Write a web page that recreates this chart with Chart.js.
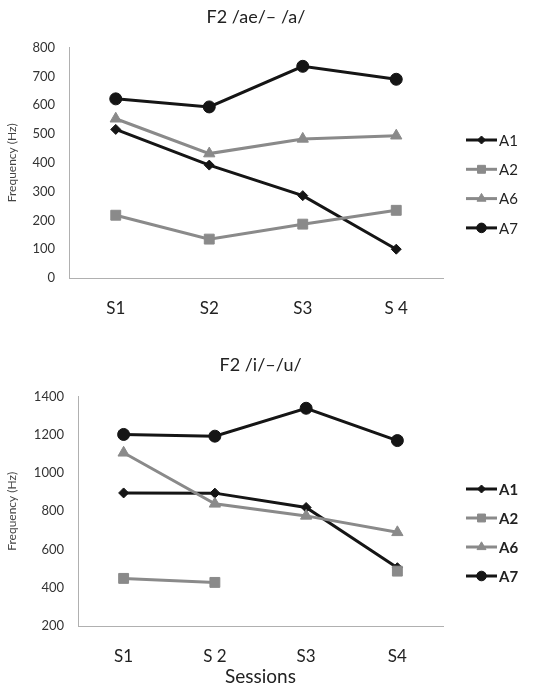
<!DOCTYPE html>
<html lang="en">
<head>
<meta charset="UTF-8">
<title>F2 sessions</title>
<script src="https://cdn.jsdelivr.net/npm/chart.js"></script>
<style>
  body { margin: 0; background: #fff; }
  .card { position: absolute; left: 0; width: 551px; }
  #box_top { top: 0; height: 340px; }
  #box_bottom { top: 340px; height: 348px; }
</style>
</head>
<body>
<div class="card" id="box_top"><canvas id="grafico_ae" width="551" height="340"></canvas></div>
<div class="card" id="box_bottom"><canvas id="grafico_iu" width="551" height="348"></canvas></div>

<script>
    // categories
    const sessoesTop = ['S1', 'S2', 'S3', 'S 4'];
    const sessoesBottom = ['S1', 'S 2', 'S3', 'S4'];
    const falantes = ['A1', 'A2', 'A6', 'A7'];

    // F2 /ae/ - /a/  (Hz)
    const aeA1 = [516, 392, 286, 100];
    const aeA2 = [218, 135, 187, 235];
    const aeA6 = [553, 432, 483, 494];
    const aeA7 = [622, 594, 735, 690];

    // F2 /i/ - /u/  (Hz)
    const iuA1 = [896, 895, 820, 505];
    const iuA2 = [449, 428, null, 487];
    const iuA6 = [1106, 839, 776, 690];
    const iuA7 = [1202, 1193, 1339, 1170];

    const fonte = 'Lato, "Open Sans", sans-serif';
    const preto = '#151515';
    const cinza = '#8a8a8a';

    const estilos = [
        { cor: preto, ponto: 'rectRot', raio: 5 },
        { cor: cinza, ponto: 'rect', raio: 7 },
        { cor: cinza, ponto: 'triangle', raio: 6.5 },
        { cor: preto, ponto: 'circle', raio: 6 }
    ];

    function montarDatasets(series) {
        return series.map(function (valores, i) {
            const e = estilos[i];
            return {
                label: falantes[i],
                data: valores,
                borderColor: e.cor,
                backgroundColor: e.cor,
                pointBackgroundColor: e.cor,
                pointBorderColor: e.cor,
                pointStyle: e.ponto,
                pointRadius: e.raio,
                pointBorderWidth: 1,
                borderWidth: 3,
                tension: 0,
                spanGaps: false,
                order: series.length - 1 - i
            };
        });
    }

    // legend with a line and a marker, like the spreadsheet one
    const legendaLinha = {
        id: 'legendaLinha',
        afterDraw(chart, args, opts) {
            const ctx = chart.ctx;
            chart.data.datasets.forEach(function (ds, i) {
                const y = opts.top + i * opts.gap;
                ctx.save();
                ctx.strokeStyle = ds.borderColor;
                ctx.lineWidth = 3;
                ctx.beginPath();
                ctx.moveTo(opts.x, y);
                ctx.lineTo(opts.x + opts.len, y);
                ctx.stroke();
                ctx.fillStyle = ds.pointBackgroundColor;
                ctx.strokeStyle = ds.pointBorderColor;
                ctx.lineWidth = 1;
                Chart.helpers.drawPoint(ctx, {
                    pointStyle: ds.pointStyle,
                    radius: ds.pointRadius * 0.8,
                    borderWidth: 1,
                    rotation: 0
                }, opts.x + opts.len / 2, y);
                ctx.fillStyle = '#222';
                ctx.font = opts.font;
                ctx.textBaseline = 'middle';
                ctx.textAlign = 'left';
                ctx.fillText(ds.label, opts.x + opts.len + 2, y + 1);
                ctx.restore();
            });
        }
    };

    function criarGrafico(id, cfg) {
        const ctx = document.getElementById(id).getContext('2d');
        return new Chart(ctx, {
            type: 'line',
            data: {
                labels: cfg.labels,
                datasets: montarDatasets(cfg.series)
            },
            options: {
                responsive: false,
                animation: false,
                devicePixelRatio: 1,
                layout: { padding: { top: 0, right: 108, bottom: 0, left: 0 } },
                plugins: {
                    legend: { display: false },
                    tooltip: { enabled: false },
                    title: {
                        display: true,
                        text: cfg.titulo,
                        fullSize: false,
                        color: '#222',
                        font: { family: fonte, size: 18, weight: 'normal' },
                        padding: cfg.tituloPadding
                    },
                    legendaLinha: cfg.legenda
                },
                scales: {
                    x: {
                        offset: true,
                        grid: { display: false, drawTicks: false },
                        border: { display: true, color: '#b0b0b0', width: 1 },
                        ticks: {
                            color: '#222',
                            padding: 20,
                            font: { family: fonte, size: 17 }
                        },
                        title: {
                            display: !!cfg.xTitulo,
                            text: cfg.xTitulo || '',
                            color: '#222',
                            font: { family: fonte, size: 19 },
                            padding: { top: 0, bottom: 0 }
                        },
                        afterFit: function (scale) { scale.height = cfg.xAltura; }
                    },
                    y: {
                        min: cfg.yMin,
                        max: cfg.yMax,
                        grid: { display: false, drawTicks: false },
                        border: { display: true, color: '#b0b0b0', width: 1 },
                        ticks: {
                            stepSize: cfg.yPasso,
                            color: '#333',
                            padding: 14,
                            font: { family: fonte, size: 13 },
                            callback: function (v) { return String(v); }
                        },
                        title: {
                            display: true,
                            text: 'Frequency (Hz)',
                            color: '#444',
                            font: { family: fonte, size: 12 },
                            padding: { top: 5, bottom: 0 }
                        },
                        afterFit: function (scale) { scale.width = cfg.yLargura; }
                    }
                }
            },
            plugins: [legendaLinha]
        });
    }

    criarGrafico('grafico_ae', {
        labels: sessoesTop,
        series: [aeA1, aeA2, aeA6, aeA7],
        titulo: 'F2 /ae/\u2013 /a/',
        tituloPadding: { top: 6, bottom: 20 },
        yMin: 0, yMax: 800, yPasso: 100,
        yLargura: 69,
        xAltura: 62,
        legenda: { x: 466, len: 31, top: 140, gap: 29.3, font: '15px ' + fonte }
    });

    criarGrafico('grafico_iu', {
        labels: sessoesBottom,
        series: [iuA1, iuA2, iuA6, iuA7],
        titulo: 'F2 /i/\u2013/u/',
        tituloPadding: { top: 14, bottom: 21 },
        yMin: 200, yMax: 1400, yPasso: 200,
        yLargura: 78,
        xAltura: 62,
        xTitulo: 'Sessions',
        legenda: { x: 466, len: 31, top: 149, gap: 29, font: 'bold 15px ' + fonte }
    });
</script>
</body>
</html>
